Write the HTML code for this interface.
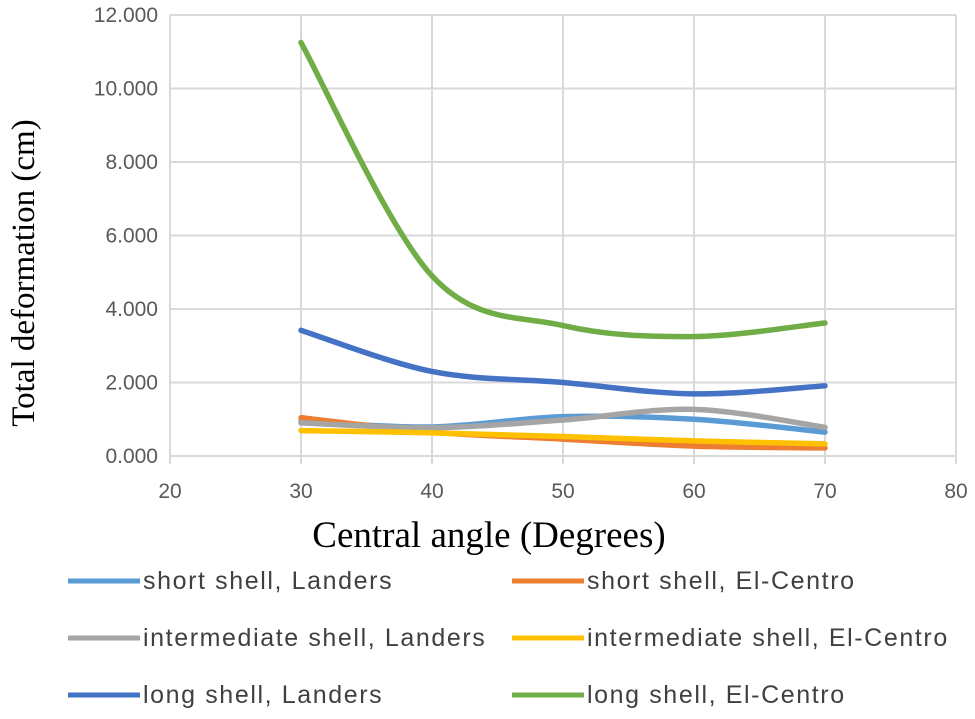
<!DOCTYPE html>
<html><head><meta charset="utf-8"><style>
body{margin:0;background:#fff}
svg{display:block}
.t{font-family:"Liberation Sans",sans-serif;font-size:21px;fill:#595959}
.ti{font-family:"Liberation Serif",serif;font-size:33px;fill:#000}
.xti{font-family:"Liberation Serif",serif;font-size:37px;fill:#000}
.lg{font-family:"Liberation Sans",sans-serif;font-size:25px;letter-spacing:1.6px;fill:#404040}
</style></head><body>
<svg id="c" width="975" height="719"></svg>
<script>
const xTicks=[20,30,40,50,60,70,80];
const yTicks=[0,2,4,6,8,10,12];
const angles=[30,40,50,60,70];
const shortLanders=[0.94,0.79,1.07,1.0,0.65];
const shortElCentro=[1.04,0.65,0.46,0.27,0.22];
const interLanders=[0.9,0.77,0.98,1.27,0.78];
const interElCentro=[0.69,0.63,0.53,0.41,0.33];
const longLanders=[3.42,2.3,2.0,1.69,1.91];
const longElCentro=[11.25,4.9,3.55,3.25,3.62];
const names=["short shell, Landers","short shell, El-Centro","intermediate shell, Landers","intermediate shell, El-Centro","long shell, Landers","long shell, El-Centro"];
const colors=["#5B9BD5","#ED7D31","#A5A5A5","#FFC000","#4472C4","#70AD47"];
const series=[shortLanders,shortElCentro,interLanders,interElCentro,longLanders,longElCentro];
const NS="http://www.w3.org/2000/svg",svg=document.getElementById('c');
const X0=170,X1=956,Y0=456,Y1=15;
const xs=v=>X0+(v-20)/60*(X1-X0);
const ys=v=>Y0-v/12*(Y0-Y1);
function mk(t,a,p){const e=document.createElementNS(NS,t);for(const k in a)e.setAttribute(k,a[k]);(p||svg).appendChild(e);return e;}
yTicks.forEach(v=>{
 const l=mk('line',{x1:X0,x2:X1,y1:ys(v),y2:ys(v),stroke:'#d9d9d9','stroke-width':2});
 
 
 const t=mk('text',{x:X0-12,y:ys(v)+7,'text-anchor':'end',class:'t'});t.textContent=v.toFixed(3);
 
 
});
xTicks.forEach(v=>{
 const l=mk('line',{x1:xs(v),x2:xs(v),y1:Y1,y2:Y0+8,stroke:'#d9d9d9','stroke-width':2});
 
 
 const t=mk('text',{x:xs(v),y:Y0+42,'text-anchor':'middle',class:'t'});t.textContent=v;
 
 
});
function path(vals){
 const p=vals.map((v,i)=>[xs(angles[i]),ys(v)]);
 let d='M'+p[0][0]+','+p[0][1];
 for(let i=0;i<p.length-1;i++){
  const a=p[i-1]||p[i],b=p[i],c=p[i+1],e=p[i+2]||c;
  const c1=[b[0]+(c[0]-a[0])/6,b[1]+(c[1]-a[1])/6],c2=[c[0]-(e[0]-b[0])/6,c[1]-(e[1]-b[1])/6];
  d+=` C${c1[0]},${c1[1]} ${c2[0]},${c2[1]} ${c[0]},${c[1]}`;
 }
 return d;
}
series.forEach((s,i)=>{
 const pth=mk('path',{d:path(s),fill:'none',stroke:colors[i],'stroke-width':5.5,'stroke-linecap':'round'});
 
 
});
const yt=mk('text',{class:'ti',transform:'translate(34,273) rotate(-90)','text-anchor':'middle'});yt.textContent='Total deformation (cm)';


const xt=mk('text',{class:'xti',x:489,y:547,'text-anchor':'middle'});xt.textContent='Central angle (Degrees)';


names.forEach((n,i)=>{
 const col=i%2,row=Math.floor(i/2);
 const lx=col?512:68,ly=581+row*57;
 const g=mk('g',{});
 
 
 mk('line',{x1:lx,x2:lx+72,y1:ly,y2:ly,stroke:colors[i],'stroke-width':5},g);
 const t=mk('text',{x:lx+75,y:ly+8,class:'lg'},g);t.textContent=n;
});
</script>
</body></html>
